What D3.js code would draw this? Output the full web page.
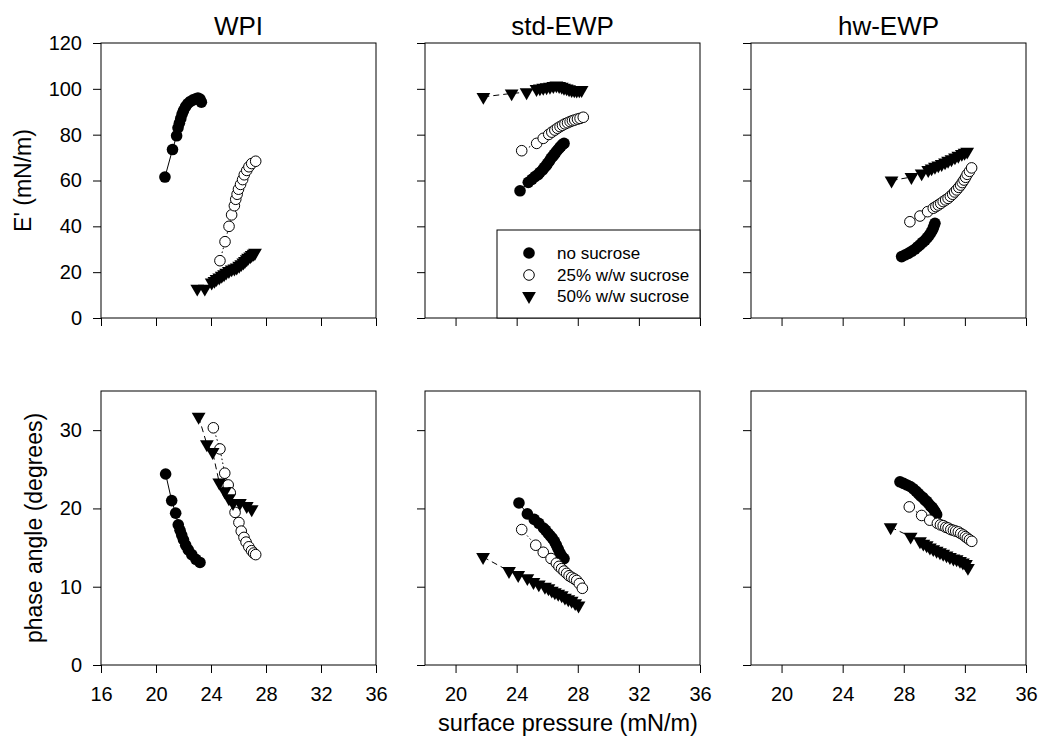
<!DOCTYPE html>
<html>
<head>
<meta charset="utf-8">
<script src="https://cdn.jsdelivr.net/npm/d3@7"></script>
<style>
  body { margin: 0; background: #fff; }
  svg { display: block; }
  text { font-family: Arial, "Liberation Sans", sans-serif; fill: #000; }
</style>
</head>
<body>
<svg id="chart" width="1039" height="742"></svg>
<script>
// Panel titles, legend entries and tick values
const proteins = ["WPI", "std-EWP", "hw-EWP"];
const seriesNames = ["no sucrose", "25% w/w sucrose", "50% w/w sucrose"];
const xTicksWPI = [16, 20, 24, 28, 32, 36];
const xTicksEWP = [20, 24, 28, 32, 36];
const yTicksModulus = [0, 20, 40, 60, 80, 100, 120];
const yTicksPhase = [0, 10, 20, 30];

// Dilatational storage modulus E' (mN/m) vs surface pressure (mN/m): [pressure, E']
const wpiModNone = [[20.65,61.5],[21.2,73.5],[21.5,79.5],[21.6,83],[21.7,85],[21.8,87],[21.9,89],[22.0,90.5],[22.15,92.2],[22.3,93.5],[22.5,94.5],[22.7,95.2],[22.9,95.6],[23.05,96],[23.2,95.5],[23.3,94.2]];
const wpiMod25 = [[24.65,25],[25.02,33.3],[25.31,40],[25.5,45],[25.7,49],[25.8,51.8],[25.9,54],[26.0,56.2],[26.15,58.3],[26.3,60.4],[26.42,62.5],[26.6,64.4],[26.76,66],[26.96,67.4],[27.25,68.4]];
const wpiMod50 = [[23.0,12.8],[23.55,12.8],[24.05,15.5],[24.25,16.2],[24.4,17],[24.6,17.7],[24.78,18.4],[24.95,19.1],[25.1,19.8],[25.3,20.5],[25.5,21.2],[25.7,21.6],[25.87,22],[26.05,22.8],[26.2,23.5],[26.35,24.2],[26.47,24.9],[26.6,25.6],[26.7,26.3],[26.85,26.9],[26.96,27.5],[27.1,28],[27.2,28.5]];

const stdModNone = [[24.22,55.5],[24.76,59.2],[25.0,60.5],[25.2,61.7],[25.4,62.6],[25.53,63.6],[25.7,64.6],[25.8,65.6],[25.93,66.5],[26.03,67.5],[26.15,68.6],[26.25,69.7],[26.36,70.5],[26.46,71.4],[26.57,72.4],[26.68,73.3],[26.8,74.2],[26.9,75],[27.0,75.7],[27.1,76.2]];
const stdMod25 = [[24.33,73],[25.31,76.2],[25.74,78.4],[26.1,80.1],[26.3,81.1],[26.5,82],[26.67,82.8],[26.84,83.5],[27.0,84.1],[27.16,84.7],[27.33,85.2],[27.5,85.7],[27.65,86.1],[27.8,86.4],[27.98,86.8],[28.15,87.1],[28.36,87.6]];
const stdMod50 = [[21.82,96.5],[23.67,98],[24.65,98.5],[25.3,99.9],[25.52,100.2],[25.74,100.5],[25.96,100.7],[26.18,100.9],[26.4,101.2],[26.6,101.5],[26.78,101.2],[26.95,100.9],[27.1,100.5],[27.27,100.2],[27.43,99.8],[27.6,99.5],[27.77,99.4],[27.93,99.3],[28.1,99.4],[28.25,99.5]];

const hwModNone = [[27.86,26.8],[28.08,27.5],[28.3,28.2],[28.52,29.1],[28.73,30],[28.9,31],[29.06,31.9],[29.23,33],[29.4,34],[29.54,35.1],[29.67,36.2],[29.79,37.4],[29.9,38.7],[29.97,40],[30.04,41.3]];
const hwMod25 = [[28.4,42],[29.06,44.5],[29.56,46.4],[29.93,47.9],[30.1,48.6],[30.26,49.3],[30.42,50],[30.58,50.8],[30.74,51.5],[30.9,52.2],[31.05,53.1],[31.2,54],[31.33,55],[31.46,55.9],[31.6,57],[31.72,58],[31.83,59.1],[31.94,60.2],[32.05,61.4],[32.15,62.7],[32.3,64],[32.44,65.5]];
const hwMod50 = [[27.2,60],[28.5,61.5],[29.17,63.1],[29.6,64.6],[29.82,65.3],[30.04,66],[30.26,66.6],[30.48,67.2],[30.7,67.9],[30.9,68.6],[31.12,69.3],[31.35,70.1],[31.57,70.8],[31.8,71.6],[31.98,72.1],[32.15,72.6]];

// Phase angle (degrees) vs surface pressure (mN/m): [pressure, phase angle]
const wpiPhaseNone = [[20.7,24.4],[21.14,21],[21.43,19.4],[21.62,17.9],[21.75,17.2],[21.87,16.6],[22.0,16],[22.16,15.3],[22.35,14.7],[22.6,14.1],[22.9,13.5],[23.2,13.1]];
const wpiPhase25 = [[24.17,30.3],[24.65,27.6],[25.0,24.5],[25.25,23],[25.4,22],[25.75,19.5],[26.03,18.2],[26.2,17.1],[26.4,16.3],[26.55,15.7],[26.75,15.1],[26.95,14.6],[27.1,14.3],[27.25,14.1]];
const wpiPhase50 = [[23.1,31.7],[23.7,28.2],[24.12,27.2],[24.6,23.3],[25.0,22.2],[25.3,21.3],[25.6,20.7],[26.1,20.7],[26.6,20.3],[26.96,19.9]];

const stdPhaseNone = [[24.15,20.7],[24.7,19.3],[25.15,18.6],[25.45,18.1],[25.75,17.5],[25.9,17.2],[26.07,16.8],[26.2,16.5],[26.33,16.2],[26.47,15.8],[26.6,15.3],[26.72,14.8],[26.84,14.3],[26.95,13.9],[27.1,13.6]];
const stdPhase25 = [[24.33,17.3],[25.25,15.3],[25.74,14.4],[26.25,13.6],[26.6,13],[26.77,12.6],[26.94,12.3],[27.1,12],[27.27,11.7],[27.43,11.4],[27.6,11.2],[27.77,11],[27.93,10.8],[28.1,10.4],[28.3,9.8]];
const stdPhase50 = [[21.8,13.8],[23.5,12.0],[24.1,11.5],[24.7,11.1],[25.1,10.6],[25.45,10.3],[25.85,10],[26.08,9.8],[26.3,9.5],[26.5,9.3],[26.72,9.1],[26.95,8.9],[27.16,8.6],[27.38,8.4],[27.6,8.2],[27.83,7.9],[28.05,7.6]];

const hwPhaseNone = [[27.75,23.4],[27.98,23.2],[28.2,23],[28.42,22.8],[28.63,22.5],[28.8,22.2],[28.96,21.9],[29.1,21.6],[29.24,21.4],[29.37,21.1],[29.5,20.9],[29.63,20.6],[29.76,20.3],[29.87,20.1],[29.98,19.8],[30.07,19.5],[30.15,19.2]];
const hwPhase25 = [[28.36,20.2],[29.17,19.1],[29.7,18.5],[30.2,18.1],[30.4,17.9],[30.58,17.8],[30.75,17.6],[30.9,17.5],[31.08,17.3],[31.25,17.2],[31.4,17.1],[31.57,17],[31.73,16.8],[31.9,16.6],[32.03,16.4],[32.16,16.2],[32.3,16],[32.45,15.8]];
const hwPhase50 = [[27.14,17.6],[28.45,16.4],[29.06,15.8],[29.28,15.5],[29.5,15.3],[29.71,15],[29.93,14.8],[30.15,14.6],[30.37,14.4],[30.58,14.2],[30.8,14],[31.02,13.8],[31.25,13.6],[31.46,13.5],[31.68,13.3],[31.87,13.1],[32.07,12.9],[32.2,12.4]];

// Layout of the 2 x 3 grid of framed panels
const columns = [
  { left: 101, domain: [16, 36], ticks: xTicksWPI },
  { left: 425, domain: [18, 36], ticks: xTicksEWP },
  { left: 751, domain: [18, 36], ticks: xTicksEWP }
];
const rows = [
  { top: 43, bottom: 318, domain: [0, 120], ticks: yTicksModulus, title: "E' (mN/m)", titleX: 31 },
  { top: 391, bottom: 665, domain: [0, 35], ticks: yTicksPhase, title: "phase angle (degrees)", titleX: 42 }
];
const panelWidth = 275;

const panelData = [
  [[wpiModNone, wpiMod25, wpiMod50], [stdModNone, stdMod25, stdMod50], [hwModNone, hwMod25, hwMod50]],
  [[wpiPhaseNone, wpiPhase25, wpiPhase50], [stdPhaseNone, stdPhase25, stdPhase50], [hwPhaseNone, hwPhase25, hwPhase50]]
];

// Series styling: marker type and connecting line dash pattern
const seriesStyle = [
  { marker: "filled", dash: null },
  { marker: "open", dash: "1.5,2.5" },
  { marker: "triangle", dash: "6,4" }
];

const svg = d3.select("#chart");
const triPath = d3.symbol(d3.symbolTriangle, 82)();

function drawMarker(g, kind, x, y) {
  if (kind === "filled") {
    g.append("circle").attr("cx", x).attr("cy", y).attr("r", 5.8).attr("fill", "#000");
  } else if (kind === "open") {
    g.append("circle").attr("cx", x).attr("cy", y).attr("r", 5.3)
      .attr("fill", "#fff").attr("stroke", "#000").attr("stroke-width", 1);
  } else {
    g.append("path").attr("d", triPath)
      .attr("transform", `translate(${x},${y}) rotate(180)`).attr("fill", "#000");
  }
}

rows.forEach((row, ri) => {
  columns.forEach((col, ci) => {
    const x = d3.scaleLinear().domain(col.domain).range([col.left, col.left + panelWidth]);
    const y = d3.scaleLinear().domain(row.domain).range([row.bottom, row.top]);
    const g = svg.append("g");

    // y axis ticks (labels only on the first column)
    const yAxis = d3.axisLeft(y).tickValues(row.ticks).tickSize(8).tickPadding(11)
      .tickFormat(ci === 0 ? d3.format("d") : () => "");
    const ya = g.append("g").attr("transform", `translate(${col.left},0)`).call(yAxis);
    ya.select(".domain").remove();
    ya.selectAll("text").attr("font-size", 20).attr("font-family", "Arial, 'Liberation Sans', sans-serif");

    // x axis ticks (labels only on the bottom row)
    const xAxis = d3.axisBottom(x).tickValues(col.ticks).tickSize(8).tickPadding(14)
      .tickFormat(ri === 1 ? d3.format("d") : () => "");
    const xa = g.append("g").attr("transform", `translate(0,${row.bottom})`).call(xAxis);
    xa.select(".domain").remove();
    xa.selectAll("text").attr("font-size", 20).attr("font-family", "Arial, 'Liberation Sans', sans-serif");

    // Frame
    g.append("rect").attr("x", col.left).attr("y", row.top)
      .attr("width", panelWidth).attr("height", row.bottom - row.top)
      .attr("fill", "none").attr("stroke", "#000").attr("stroke-width", 1);

    // Series: line, then markers
    const line = d3.line().x(d => x(d[0])).y(d => y(d[1]));
    panelData[ri][ci].forEach((pts, si) => {
      const st = seriesStyle[si];
      g.append("path").attr("d", line(pts)).attr("fill", "none")
        .attr("stroke", "#000").attr("stroke-width", 1)
        .attr("stroke-dasharray", st.dash);
      const mg = g.append("g");
      pts.forEach(p => drawMarker(mg, st.marker, x(p[0]), y(p[1])));
    });

    if (ri === 0) {
      g.append("text").attr("x", col.left + panelWidth / 2).attr("y", 35)
        .attr("text-anchor", "middle").attr("font-size", 26).text(proteins[ci]);
    }
  });
});

// Row axis titles
rows.forEach(row => {
  svg.append("text")
    .attr("transform", `translate(${row.titleX},${(row.top + row.bottom) / 2}) rotate(-90)`)
    .attr("text-anchor", "middle").attr("font-size", 23).text(row.title);
});

// Shared x axis title
svg.append("text").attr("x", 568).attr("y", 731).attr("text-anchor", "middle")
  .attr("font-size", 23.5).text("surface pressure (mN/m)");

// Legend inside the std-EWP modulus panel
const legend = svg.append("g");
legend.append("rect").attr("x", 497).attr("y", 230).attr("width", 203).attr("height", 88)
  .attr("fill", "#fff").attr("stroke", "#000").attr("stroke-width", 1);
const legendRows = [253, 275, 296];
seriesNames.forEach((name, i) => {
  drawMarker(legend, seriesStyle[i].marker, 529, legendRows[i]);
  legend.append("text").attr("x", 557).attr("y", legendRows[i]).attr("dy", "0.36em")
    .attr("font-size", 17).text(name);
});
</script>
</body>
</html>
